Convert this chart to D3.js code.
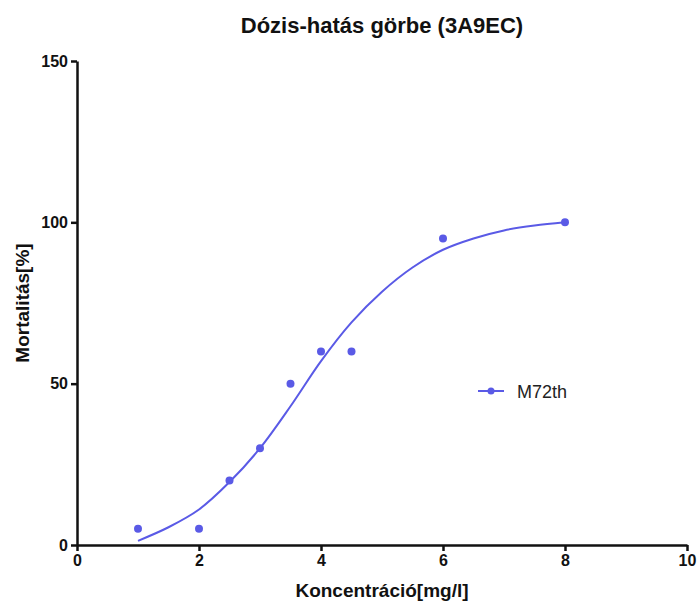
<!DOCTYPE html>
<html>
<head>
<meta charset="utf-8">
<script src="https://cdn.jsdelivr.net/npm/d3@7"></script>
<style>
  body { margin: 0; background: #fff; }
  svg text { font-family: "Liberation Sans", Arial, sans-serif; }
  .axis path, .axis line { stroke: #111; stroke-width: 2.5px; }
  .axis text { font-size: 16px; font-weight: bold; fill: #111; }
</style>
</head>
<body>
<div id="chart"></div>
<script>
/* measured points */
const concX   = [1, 2, 2.5, 3, 3.5, 4, 4.5, 6, 8];
const mortY   = [5, 5, 20, 30, 50, 60, 60, 95, 100];
/* fitted curve */
const fitX    = [1, 1.5, 2, 2.5, 3, 3.5, 4, 4.5, 5, 5.5, 6, 6.5, 7, 7.5, 8];
const fitY    = [1.3, 5.5, 11, 19.5, 30, 43, 57, 69, 78.5, 86, 91.5, 95, 97.5, 99, 100];
const xTicks  = [0, 2, 4, 6, 8, 10];
const yTicks  = [0, 50, 100, 150];
const seriesName = 'M72th';
const COLOR = '#5a5ae6';

const W = 700, H = 602;
const M = { top: 61, right: 13, bottom: 57, left: 77 };
const iw = W - M.left - M.right;
const ih = H - M.top - M.bottom;

const svg = d3.select('#chart').append('svg')
    .attr('width', W).attr('height', H);

const g = svg.append('g').attr('transform', `translate(${M.left},${M.top})`);

const x = d3.scaleLinear().domain([0, 10]).range([0, iw]);
const y = d3.scaleLinear().domain([0, 150]).range([ih, 0]);

/* axes */
g.append('g').attr('class', 'axis')
    .attr('transform', `translate(0,${ih})`)
    .call(d3.axisBottom(x).tickValues(xTicks).tickSize(6).tickPadding(4).tickSizeOuter(0));

g.append('g').attr('class', 'axis')
    .call(d3.axisLeft(y).tickValues(yTicks).tickSize(6).tickPadding(3).tickSizeOuter(0));

/* fitted curve */
const fit = fitX.map((v, i) => [v, fitY[i]]);
g.append('path')
    .datum(fit)
    .attr('fill', 'none')
    .attr('stroke', COLOR)
    .attr('stroke-width', 2)
    .attr('d', d3.line().x(d => x(d[0])).y(d => y(d[1])).curve(d3.curveCatmullRom.alpha(0.5)));

/* points */
g.selectAll('.pt')
    .data(concX.map((v, i) => [v, mortY[i]]))
    .join('circle')
    .attr('class', 'pt')
    .attr('cx', d => x(d[0]))
    .attr('cy', d => y(d[1]))
    .attr('r', 4)
    .attr('fill', COLOR);

/* legend */
const lg = svg.append('g').attr('transform', 'translate(478,391)');
lg.append('line').attr('x1', 0).attr('x2', 26).attr('stroke', COLOR).attr('stroke-width', 2);
lg.append('circle').attr('cx', 13).attr('r', 3.5).attr('fill', COLOR);
lg.append('text').attr('x', 39).attr('y', 6.5)
    .style('font-size', '18px').attr('fill', '#222').text(seriesName);

/* titles */
svg.append('text')
    .attr('x', M.left + iw / 2).attr('y', 33)
    .attr('text-anchor', 'middle')
    .style('font-size', '22px').style('font-weight', 'bold').attr('fill', '#111')
    .text('Dózis-hatás görbe (3A9EC)');

svg.append('text')
    .attr('x', M.left + iw / 2).attr('y', 597)
    .attr('text-anchor', 'middle')
    .style('font-size', '19px').style('font-weight', 'bold').attr('fill', '#111')
    .text('Koncentráció[mg/l]');

svg.append('text')
    .attr('transform', `translate(29,${M.top + ih / 2}) rotate(-90)`)
    .attr('text-anchor', 'middle')
    .style('font-size', '19px').style('font-weight', 'bold').attr('fill', '#111')
    .text('Mortalitás[%]');
</script>
</body>
</html>
